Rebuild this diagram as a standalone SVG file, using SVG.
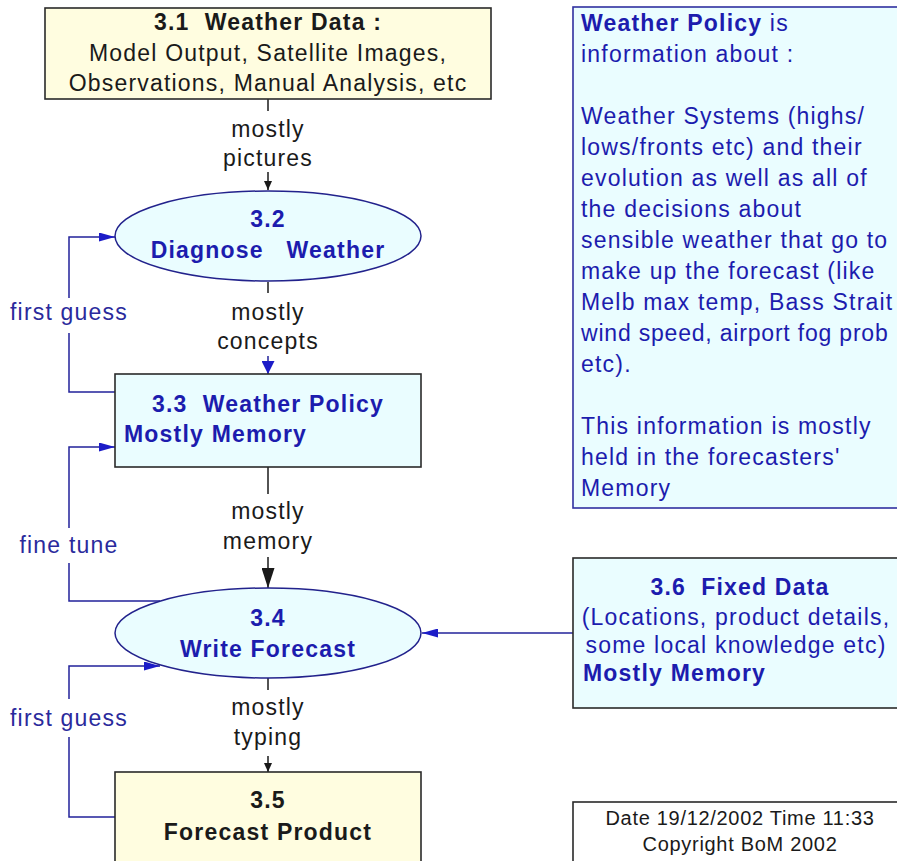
<svg xmlns="http://www.w3.org/2000/svg" width="897" height="861" viewBox="0 0 897 861">
<style>
text{font-family:"Liberation Sans",Arial,sans-serif;font-size:23px;letter-spacing:1.2px}
.b{font-weight:bold}
.c{text-anchor:middle}
.blk{fill:#1a1a1a}
.blu{fill:#1c1cae}
.lblu{fill:#2a2a9c}
.yel{fill:#fffde0;stroke:#2a2a2a;stroke-width:1.6}
.cyb{fill:#eafdff;stroke:#2a2a2a;stroke-width:1.6}
.ell{fill:#eafdff;stroke:#22228c;stroke-width:1.5}
.pol{fill:#eafdff;stroke:#3030a0;stroke-width:1.6}
.dl{stroke:#1a1a1a;stroke-width:1.5;fill:none}
.bl{stroke:#22229a;stroke-width:1.5;fill:none}
.small{font-size:20px;letter-spacing:0.7px}
.tight{letter-spacing:0.8px}
</style>
<defs>
<marker id="aBs" markerUnits="userSpaceOnUse" markerWidth="10" markerHeight="8" refX="9" refY="4" orient="auto"><path d="M0,0 L9,4 L0,8 z" fill="#1a1a1a"/></marker>
<marker id="aBb" markerUnits="userSpaceOnUse" markerWidth="21" markerHeight="13" refX="20" refY="6.5" orient="auto"><path d="M0,0 L20,6.5 L0,13 z" fill="#1a1a1a"/></marker>
<marker id="aUb" markerUnits="userSpaceOnUse" markerWidth="14" markerHeight="13" refX="13" refY="6.5" orient="auto"><path d="M0,0 L13,6.5 L0,13 z" fill="#1c1cc8"/></marker>
<marker id="aUh" markerUnits="userSpaceOnUse" markerWidth="17" markerHeight="9" refX="16" refY="4.5" orient="auto"><path d="M0,0 L16,4.5 L0,9 z" fill="#1c1cc8"/></marker>
</defs>

<g id="connectors">
<!-- 3.1 -> 3.2 -->
<path class="dl" d="M268,99 V111"/>
<path class="dl" d="M268,172 V190" marker-end="url(#aBs)"/>
<text class="c blk" x="268" y="137">mostly</text>
<text class="c blk" x="268" y="166">pictures</text>
<!-- 3.2 -> 3.3 -->
<path class="dl" d="M268,282 V293"/>
<path class="bl" d="M268,356 V374" marker-end="url(#aUb)"/>
<text class="c blk" x="268" y="320">mostly</text>
<text class="c blk" x="268" y="349">concepts</text>
<!-- 3.3 -> 3.4 -->
<path class="dl" d="M268,467 V494"/>
<path class="dl" d="M268,557 V588" marker-end="url(#aBb)"/>
<text class="c blk" x="268" y="519">mostly</text>
<text class="c blk" x="268" y="549">memory</text>
<!-- 3.4 -> 3.5 -->
<path class="dl" d="M268,678 V690"/>
<path class="dl" d="M268,756 V772" marker-end="url(#aBs)"/>
<text class="c blk" x="268" y="715">mostly</text>
<text class="c blk" x="268" y="745">typing</text>
<!-- first guess 3.3 -> 3.2 -->
<path class="bl" d="M115,392 H69 V333"/>
<path class="bl" d="M69,298 V237 H115" marker-end="url(#aUh)"/>
<text class="c lblu" x="69" y="320">first guess</text>
<!-- fine tune 3.4 -> 3.3 -->
<path class="bl" d="M160,601 H69 V563"/>
<path class="bl" d="M69,528 V447 H115" marker-end="url(#aUh)"/>
<text class="c lblu" x="69" y="553">fine tune</text>
<!-- first guess 3.5 -> 3.4 -->
<path class="bl" d="M115,817 H69 V737"/>
<path class="bl" d="M69,699 V666 H160" marker-end="url(#aUh)"/>
<text class="c lblu" x="69" y="726">first guess</text>
<!-- 3.6 -> 3.4 -->
<path class="bl" d="M573,633 H422" marker-end="url(#aUh)"/>
</g>

<g id="n31">
<rect class="yel" x="45" y="8" width="446" height="91"/>
<text class="c b blk" x="268" y="30">3.1&#160; Weather Data :</text>
<text class="c blk" x="268" y="61">Model Output, Satellite Images,</text>
<text class="c blk" x="268" y="91">Observations, Manual Analysis, etc</text>
</g>

<g id="n32">
<ellipse class="ell" cx="268" cy="236" rx="153" ry="45"/>
<text class="c b blu" x="268" y="227">3.2</text>
<text class="c b blu" x="268" y="258">Diagnose&#160;&#160; Weather</text>
</g>

<g id="n33">
<rect class="cyb" x="115" y="374" width="306" height="93"/>
<text class="c b blu" x="268" y="412">3.3&#160; Weather Policy</text>
<text class="b blu" x="124" y="442">Mostly Memory</text>
</g>

<g id="n34">
<ellipse class="ell" cx="268" cy="633" rx="153" ry="45"/>
<text class="c b blu" x="268" y="626">3.4</text>
<text class="c b blu" x="268" y="657">Write Forecast</text>
</g>

<g id="n35">
<rect class="yel" x="115" y="772" width="306" height="100"/>
<text class="c b blk" x="268" y="808">3.5</text>
<text class="c b blk" x="268" y="840">Forecast Product</text>
</g>

<g id="n36">
<rect class="cyb" x="573" y="558" width="340" height="150"/>
<text class="c b blu" x="740" y="595">3.6&#160; Fixed Data</text>
<text class="c blu" x="736" y="625">(Locations, product details,</text>
<text class="c blu" x="736" y="653">some local knowledge etc)</text>
<text class="b blu" x="583" y="681">Mostly Memory</text>
</g>

<g id="policy">
<rect class="pol" x="573" y="7" width="340" height="501"/>
<text class="blu" x="581" y="31"><tspan class="b">Weather Policy</tspan> is</text>
<text class="blu" x="581" y="62">information about :</text>
<text class="blu" x="581" y="124">Weather Systems (highs/</text>
<text class="blu" x="581" y="155">lows/fronts etc) and their</text>
<text class="blu" x="581" y="186">evolution as well as all of</text>
<text class="blu" x="581" y="217">the decisions about</text>
<text class="blu" x="581" y="248">sensible weather that go to</text>
<text class="blu" x="581" y="279">make up the forecast (like</text>
<text class="blu" x="581" y="310">Melb max temp, Bass Strait</text>
<text class="blu tight" x="581" y="341">wind speed, airport fog prob</text>
<text class="blu" x="581" y="372">etc).</text>
<text class="blu" x="581" y="434">This information is mostly</text>
<text class="blu" x="581" y="465">held in the forecasters'</text>
<text class="blu" x="581" y="496">Memory</text>
</g>

<g id="datebox">
<rect x="573" y="802" width="340" height="70" fill="#ffffff" stroke="#2a2a2a" stroke-width="1.6"/>
<text class="c small blk" x="740" y="825">Date 19/12/2002 Time 11:33</text>
<text class="c small blk" x="740" y="851">Copyright BoM 2002</text>
</g>
</svg>
